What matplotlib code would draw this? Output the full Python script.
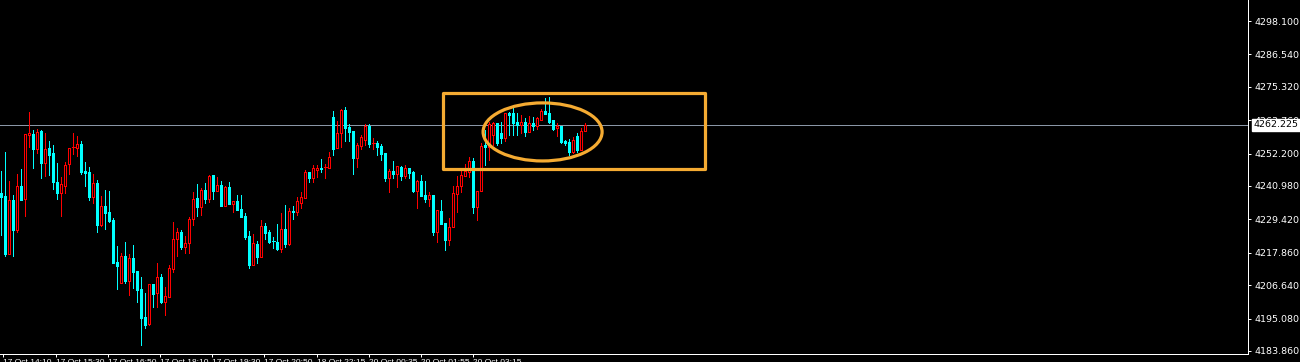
import matplotlib
matplotlib.use("Agg")
import matplotlib.pyplot as plt
from matplotlib.patches import Rectangle, Ellipse

opens = [4238.6, 4237.6, 4217.5, 4236.2, 4225.8, 4241.0, 4236.5, 4258.7, 4259.0, 4253.8,
         4260.1, 4249.0, 4254.2, 4252.5, 4242.4, 4238.6, 4241.0, 4248.6, 4254.2, 4254.2,
         4255.6, 4246.2, 4245.9, 4237.2, 4242.1, 4227.6, 4234.1, 4232.0, 4229.3, 4214.7,
         4207.5, 4216.8, 4208.2, 4216.1, 4211.6, 4205.4, 4195.7, 4193.3, 4207.1, 4204.0,
         4209.6, 4200.9, 4202.6, 4212.3, 4222.7, 4225.1, 4219.9, 4221.3, 4229.6, 4236.9,
         4233.8, 4239.7, 4236.5, 4244.9, 4239.3, 4241.4, 4234.1, 4240.7, 4234.8, 4235.9,
         4233.1, 4230.7, 4223.7, 4213.7, 4221.0, 4216.5, 4227.2, 4225.1, 4222.0, 4221.7,
         4219.2, 4226.2, 4221.0, 4232.4, 4232.0, 4235.2, 4236.9, 4245.9, 4243.8, 4246.6,
         4247.3, 4247.3, 4247.3, 4264.9, 4254.2, 4259.4, 4267.3, 4261.5, 4260.1, 4250.7,
         4254.9, 4257.0, 4261.8, 4255.6, 4255.9, 4254.9, 4252.5, 4243.8, 4246.2, 4245.2,
         4247.6, 4244.5, 4247.3, 4245.9, 4239.3, 4242.8, 4237.9, 4236.5, 4237.9, 4225.1,
         4232.4, 4228.2, 4222.4, 4226.9, 4238.3, 4241.0, 4244.5, 4245.9, 4249.7, 4233.8,
         4239.3, 4255.2, 4254.5, 4258.7, 4262.8, 4259.4, 4257.7, 4266.3, 4266.3, 4263.2,
         4262.2, 4263.2, 4259.7, 4262.8, 4261.8, 4263.9, 4267.0, 4266.3, 4263.9, 4261.1,
         4261.8, 4256.6, 4256.3, 4252.8, 4258.3, 4253.5, 4260.1]
highs = [4246.2, 4252.8, 4242.8, 4237.9, 4245.2, 4246.9, 4259.0, 4266.6, 4260.4, 4260.8,
         4260.4, 4259.4, 4256.6, 4255.2, 4249.0, 4244.2, 4249.3, 4254.2, 4259.4, 4258.3,
         4256.6, 4249.3, 4247.6, 4245.2, 4243.1, 4237.6, 4239.7, 4239.3, 4230.0, 4220.3,
         4217.9, 4221.7, 4217.5, 4220.6, 4211.6, 4209.6, 4204.0, 4207.1, 4207.1, 4214.4,
         4210.6, 4206.1, 4213.7, 4228.6, 4226.5, 4225.8, 4223.7, 4230.3, 4239.0, 4241.7,
         4240.4, 4242.1, 4244.9, 4244.9, 4244.2, 4242.8, 4241.0, 4242.4, 4235.9, 4237.9,
         4237.9, 4231.7, 4225.5, 4224.4, 4222.0, 4229.3, 4228.2, 4225.8, 4223.4, 4227.9,
         4231.7, 4234.5, 4233.4, 4234.1, 4237.2, 4239.0, 4246.6, 4245.9, 4248.3, 4248.3,
         4250.4, 4248.7, 4252.8, 4267.0, 4263.5, 4267.7, 4268.4, 4262.5, 4260.1, 4255.9,
         4258.7, 4262.5, 4262.5, 4257.7, 4256.6, 4255.6, 4252.5, 4246.9, 4249.7, 4248.0,
         4248.0, 4248.3, 4247.3, 4246.2, 4243.1, 4244.9, 4242.8, 4239.0, 4237.9, 4232.7,
         4236.2, 4228.2, 4230.0, 4241.0, 4244.5, 4246.2, 4248.7, 4251.1, 4250.7, 4239.3,
         4255.9, 4260.4, 4263.2, 4263.2, 4262.8, 4263.2, 4266.3, 4266.6, 4269.1, 4266.3,
         4265.6, 4264.6, 4265.3, 4264.9, 4264.9, 4267.7, 4271.5, 4271.8, 4263.9, 4262.8,
         4261.8, 4256.9, 4257.3, 4258.0, 4259.4, 4261.1, 4262.8]
lows = [4224.1, 4216.8, 4217.5, 4216.8, 4225.1, 4236.2, 4230.7, 4254.5, 4247.3, 4252.5,
        4243.8, 4244.5, 4244.9, 4240.0, 4236.5, 4230.7, 4238.6, 4245.2, 4252.1, 4251.4,
        4245.2, 4241.0, 4236.2, 4235.2, 4225.1, 4227.2, 4226.2, 4228.6, 4214.4, 4205.4,
        4207.5, 4207.5, 4203.3, 4205.8, 4200.9, 4186.0, 4191.9, 4192.9, 4199.2, 4199.2,
        4200.6, 4196.4, 4202.6, 4211.3, 4216.8, 4219.2, 4217.9, 4217.9, 4227.6, 4230.7,
        4231.0, 4235.2, 4235.5, 4236.5, 4239.3, 4234.1, 4234.1, 4234.8, 4232.0, 4232.7,
        4230.3, 4222.7, 4212.7, 4213.7, 4214.4, 4216.5, 4222.7, 4221.3, 4219.6, 4218.9,
        4218.2, 4219.9, 4220.6, 4229.6, 4231.0, 4233.4, 4236.9, 4242.4, 4242.4, 4244.2,
        4245.9, 4243.8, 4247.3, 4251.8, 4254.2, 4254.5, 4256.6, 4256.6, 4245.2, 4247.6,
        4253.8, 4255.2, 4254.5, 4253.8, 4251.8, 4250.0, 4242.8, 4239.0, 4243.8, 4240.7,
        4243.1, 4243.8, 4243.8, 4239.0, 4233.4, 4237.6, 4235.5, 4234.1, 4224.1, 4221.7,
        4227.9, 4218.9, 4220.6, 4226.9, 4232.0, 4239.0, 4244.5, 4244.2, 4231.7, 4229.3,
        4239.3, 4248.3, 4250.0, 4255.2, 4255.2, 4255.9, 4256.6, 4258.7, 4258.7, 4258.7,
        4259.4, 4258.3, 4259.7, 4260.4, 4260.8, 4263.9, 4265.9, 4262.8, 4260.4, 4258.3,
        4255.9, 4255.2, 4251.8, 4252.5, 4252.8, 4253.5, 4260.1]
closes = [4237.2, 4217.5, 4236.2, 4225.8, 4241.0, 4236.2, 4259.0, 4259.4, 4253.8, 4259.7,
          4249.0, 4253.8, 4251.8, 4242.4, 4238.6, 4241.7, 4248.3, 4254.2, 4254.5, 4255.6,
          4245.9, 4245.5, 4237.2, 4242.1, 4227.6, 4234.1, 4231.7, 4228.9, 4214.4, 4213.4,
          4216.8, 4208.2, 4216.1, 4211.3, 4205.1, 4195.4, 4192.9, 4207.1, 4203.7, 4209.6,
          4200.9, 4203.0, 4212.7, 4222.7, 4225.1, 4219.9, 4221.3, 4229.6, 4236.5, 4233.8,
          4239.7, 4236.5, 4244.5, 4239.3, 4241.4, 4234.1, 4240.7, 4234.8, 4235.9, 4232.7,
          4230.3, 4223.4, 4213.7, 4221.3, 4216.5, 4227.2, 4224.8, 4221.7, 4221.7, 4219.2,
          4226.2, 4221.0, 4232.4, 4232.0, 4235.9, 4237.2, 4245.9, 4243.8, 4247.3, 4247.3,
          4246.9, 4247.6, 4251.1, 4253.8, 4259.4, 4267.3, 4261.1, 4259.7, 4250.7, 4255.2,
          4258.0, 4261.8, 4255.6, 4255.9, 4254.5, 4252.1, 4243.8, 4246.2, 4245.2, 4248.0,
          4244.5, 4247.3, 4245.5, 4239.3, 4242.8, 4237.6, 4236.5, 4237.9, 4225.1, 4232.7,
          4227.9, 4222.4, 4226.9, 4238.6, 4241.0, 4244.9, 4246.2, 4249.7, 4233.8, 4239.3,
          4254.9, 4254.5, 4262.5, 4262.8, 4255.9, 4257.7, 4266.3, 4265.6, 4262.8, 4262.2,
          4263.2, 4259.7, 4262.8, 4261.8, 4264.6, 4267.0, 4265.9, 4263.2, 4260.8, 4261.8,
          4256.3, 4255.9, 4252.8, 4256.9, 4253.5, 4260.1, 4262.2]

price_ticks = [4298.100, 4286.540, 4275.320, 4263.760, 4252.200, 4240.980,
               4229.420, 4217.860, 4206.640, 4195.080, 4183.860]
time_labels = ["17 Oct 14:10", "17 Oct 15:30", "17 Oct 16:50", "17 Oct 18:10",
               "17 Oct 19:30", "17 Oct 20:50", "18 Oct 22:15", "20 Oct 00:35",
               "20 Oct 01:55", "20 Oct 03:15"]
time_label_pos = [0.5, 13.75, 26.75, 39.75, 52.75, 65.75, 79.0, 92.0, 105.0, 118.0]
last_price = 4262.225

W, H = 1300, 362
fig = plt.figure(figsize=(W / 100, H / 100), dpi=100, facecolor="black")
ax = fig.add_axes([0, 8 / H, 1248 / W, 1 - 8 / H], facecolor="black")

px = 0.72  # one pixel in points
UP = "#ff0000"
DN = "#00ffff"
bw = 0.5

for i, (o, h, l, c) in enumerate(zip(opens, highs, lows, closes)):
    up = c >= o
    col = UP if up else DN
    ax.vlines(i, l, h, colors=col, linewidth=px, antialiased=False, zorder=2)
    lo, hi = min(o, c), max(o, c)
    if hi - lo < 0.35:
        ax.hlines((o + c) / 2, i - bw / 2 - 0.125, i + bw / 2 + 0.125, colors=col,
                  linewidth=px, antialiased=False, zorder=3)
    else:
        ax.add_patch(Rectangle((i - bw / 2, lo), bw, hi - lo,
                               facecolor="black" if up else DN, edgecolor=col,
                               linewidth=px, antialiased=False, zorder=3))

ax.set_xlim(-0.25, 311.75)
ax.set_ylim(4182.82, 4305.37)

# current price line
ax.axhline(last_price, color="#8a96a6", linewidth=px, zorder=1)

# annotations
ax.add_patch(Rectangle((110.5, 4246.9), 65.5, 26.3, fill=False, edgecolor="#f5ab32",
                       linewidth=2.3, joinstyle="round", zorder=5))
ax.add_patch(Ellipse((135.4, 4259.7), 29.75, 20.1, fill=False, edgecolor="#f5ab32",
                     linewidth=2.3, zorder=5))

for s in ["top", "left"]:
    ax.spines[s].set_visible(False)
for s in ["right", "bottom"]:
    ax.spines[s].set_color("white")
    ax.spines[s].set_linewidth(px)

ax.yaxis.tick_right()
ax.set_yticks(price_ticks)
ax.set_yticklabels([f"{v:.3f}" for v in price_ticks])
ax.tick_params(axis="y", colors="white", length=2.5, width=px, pad=2, labelsize=6.8)

ax.set_xticks(time_label_pos)
ax.set_xticklabels(time_labels, family="Liberation Sans")
ax.tick_params(axis="x", colors="white", length=2.5, width=px, pad=1, labelsize=6)
for t in ax.get_xticklabels():
    t.set_horizontalalignment("left")

# last price box
ax.annotate(f"{last_price:.3f}", xy=(1.0, last_price), xycoords=("axes fraction", "data"),
            xytext=(4, 0), textcoords="offset points", va="center", ha="left",
            fontsize=6.8, color="black",
            bbox=dict(boxstyle="square,pad=0.15", facecolor="white", edgecolor="white"),
            annotation_clip=False, zorder=10)

fig.savefig("out.png", dpi=100, facecolor="black")
